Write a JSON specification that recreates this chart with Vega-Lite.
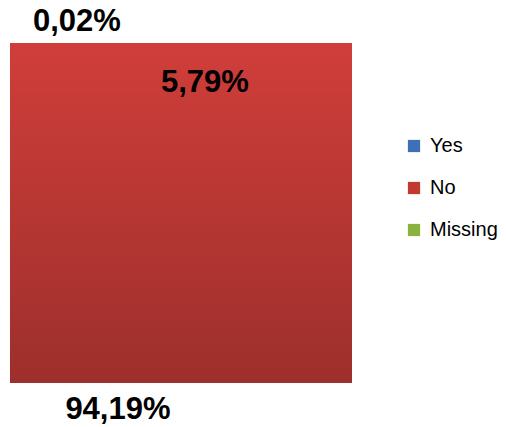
{
  "$schema": "https://vega.github.io/schema/vega-lite/v6.json",
  "width": 342,
  "height": 340,
  "autosize": {"type": "none"},
  "padding": {"left": 10, "top": 43, "right": 154, "bottom": 44},
  "background": "white",
  "config": {
    "view": {"stroke": null},
    "locale": {"number": {"decimal": ",", "thousands": ".", "grouping": [3], "currency": ["", " €"]}},
    "text": {"font": "Liberation Sans"}
  },
  "data": {
    "values": [
      {"category": "Yes", "pct": 0.0579, "idx": 1},
      {"category": "No", "pct": 0.9419, "idx": 2},
      {"category": "Missing", "pct": 0.0002, "idx": 3}
    ]
  },
  "layer": [
    {
      "mark": {"type": "bar"},
      "encoding": {
        "x": {"datum": "all", "type": "nominal", "scale": {"paddingInner": 0, "paddingOuter": 0}, "axis": null},
        "y": {"field": "pct", "type": "quantitative", "stack": true, "scale": {"domain": [0, 1], "nice": false}, "axis": null},
        "order": {"field": "idx", "type": "quantitative"},
        "color": {
          "field": "category",
          "type": "nominal",
          "sort": ["Yes", "No", "Missing"],
          "scale": {"domain": ["Yes", "No", "Missing"], "range": ["#3D70B6", "#C2392F", "#8AB23F"]},
          "legend": {
            "title": null,
            "orient": "none",
            "legendX": 394,
            "legendY": 93,
            "padding": 0,
            "symbolType": "square",
            "symbolSize": 150,
            "symbolStrokeWidth": 0,
            "labelFont": "Liberation Sans",
            "labelFontSize": 20,
            "labelColor": "#000000",
            "labelOffset": 6,
            "rowPadding": 22
          }
        }
      }
    },
    {
      "mark": {
        "type": "bar",
        "fill": {
          "gradient": "linear",
          "x1": 0, "y1": 0, "x2": 0, "y2": 1,
          "stops": [
            {"offset": 0, "color": "#D03E3A"},
            {"offset": 1, "color": "#9D2F2C"}
          ]
        }
      },
      "encoding": {
        "x": {"datum": "all", "type": "nominal", "axis": null},
        "y": {"aggregate": "sum", "field": "pct", "type": "quantitative", "axis": null}
      }
    },
    {
      "mark": {"type": "text", "radius": 132, "fontSize": 31, "fontWeight": "bold", "color": "#000000", "align": "center", "baseline": "middle"},
      "encoding": {
        "theta": {"field": "pct", "type": "quantitative", "stack": true},
        "order": {"field": "idx", "type": "quantitative"},
        "text": {"condition": {"test": "datum.category === 'Yes'", "field": "pct", "type": "quantitative", "format": ".2%"}, "value": ""}
      }
    },
    {
      "mark": {"type": "text", "radius": 200, "dx": -27, "fontSize": 31, "fontWeight": "bold", "color": "#000000", "align": "center", "baseline": "middle"},
      "encoding": {
        "theta": {"field": "pct", "type": "quantitative", "stack": true},
        "order": {"field": "idx", "type": "quantitative"},
        "text": {"condition": {"test": "datum.category === 'No'", "field": "pct", "type": "quantitative", "format": ".2%"}, "value": ""}
      }
    },
    {
      "mark": {"type": "text", "radius": 191, "dx": -104, "fontSize": 31, "fontWeight": "bold", "color": "#000000", "align": "center", "baseline": "middle"},
      "encoding": {
        "theta": {"field": "pct", "type": "quantitative", "stack": true},
        "order": {"field": "idx", "type": "quantitative"},
        "text": {"condition": {"test": "datum.category === 'Missing'", "field": "pct", "type": "quantitative", "format": ".2%"}, "value": ""}
      }
    }
  ]
}
